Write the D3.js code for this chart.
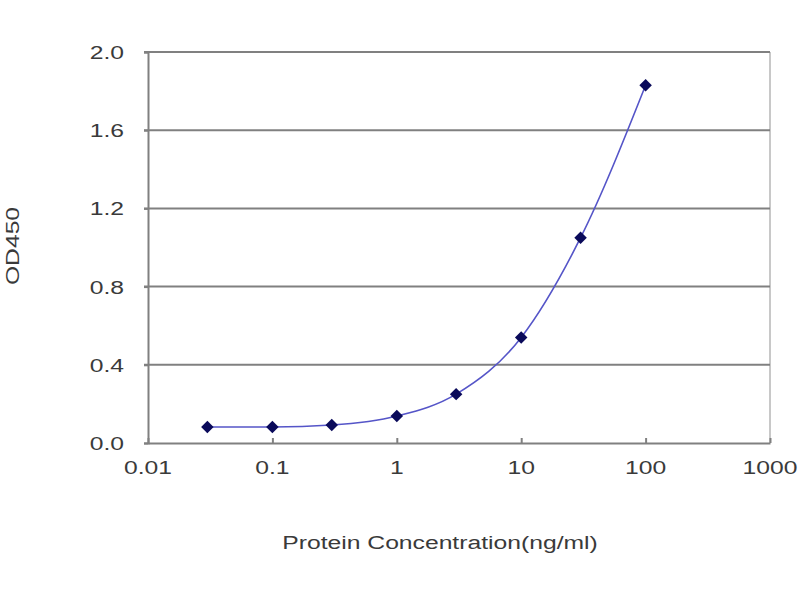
<!DOCTYPE html>
<html><head><meta charset="utf-8">
<script src="https://cdn.jsdelivr.net/npm/d3@7"></script>
<style>body{margin:0;background:#fff;} svg{display:block;}</style>
</head><body>
<svg id="c" width="800" height="600"></svg>
<script>
const concentrations = [0.03, 0.1, 0.3, 1, 3, 10, 30, 100];
const od450 = [0.082, 0.082, 0.092, 0.138, 0.25, 0.54, 1.05, 1.83];
const xTicks = [0.01, 0.1, 1, 10, 100, 1000];
const xTickLabels = ["0.01", "0.1", "1", "10", "100", "1000"];
const yTicks = [0.0, 0.4, 0.8, 1.2, 1.6, 2.0];
const yTickLabels = ["0.0", "0.4", "0.8", "1.2", "1.6", "2.0"];

const svg = d3.select("#c");
const L = 148, R = 770, T = 52, B = 443;
const x = d3.scaleLog().domain([0.01, 1000]).range([L, R]);
const y = d3.scaleLinear().domain([0, 2]).range([B, T]);
const font = "'Liberation Sans', Arial, sans-serif";
const SX = 1.3, FS = 19, TXT = "#3a3a3a";

function label(g, tx, ty, text, anchor, rot) {
  return g.append("g").attr("transform", `translate(${tx},${ty})` + (rot ? ` rotate(${rot})` : "") + ` scale(${SX},1)`)
    .append("text").attr("text-anchor", anchor).attr("font-family", font)
    .attr("font-size", FS).attr("fill", TXT).text(text);
}

// right border
svg.append("line").attr("x1", R).attr("x2", R).attr("y1", T).attr("y2", B)
  .attr("stroke", "#c8c8c8").attr("stroke-width", 2);

// gridlines
svg.append("g").selectAll("line").data(yTicks.filter(d => d > 0)).join("line")
  .attr("x1", L - 4).attr("x2", R).attr("y1", d => y(d)).attr("y2", d => y(d))
  .attr("stroke", "#808080").attr("stroke-width", 2);

// y axis
const yAxis = d3.axisLeft(y).tickValues(yTicks).tickFormat("").tickSize(4);
const gy = svg.append("g").attr("transform", `translate(${L},0)`).call(yAxis);
gy.select(".domain").attr("stroke", "#808080").attr("stroke-width", 2);
gy.selectAll(".tick line").attr("stroke", "#808080").attr("stroke-width", 2);
yTicks.forEach((d, i) => label(svg, 124, y(d) + 1, yTickLabels[i], "end").attr("dy", "0.32em"));

// x axis
const xAxis = d3.axisBottom(x).tickValues(xTicks).tickFormat("").tickSizeInner(-5).tickSizeOuter(0);
const gx = svg.append("g").attr("transform", `translate(0,${B})`).call(xAxis);
gx.select(".domain").attr("stroke", "#808080").attr("stroke-width", 2);
gx.selectAll(".tick line").attr("stroke", "#808080").attr("stroke-width", 2);
xTicks.forEach((d, i) => label(svg, x(d), 474, xTickLabels[i], "middle"));

// curve
const pts = concentrations.map((c, i) => [c, od450[i]]);
const line = d3.line().x(d => x(d[0])).y(d => y(d[1])).curve(d3.curveMonotoneX);
svg.append("path").datum(pts).attr("d", line).attr("fill", "none")
  .attr("stroke", "#5555c8").attr("stroke-width", 1.6);

// markers
svg.append("g").selectAll("path").data(pts).join("path")
  .attr("transform", d => `translate(${x(d[0])},${y(d[1])}) rotate(45)`)
  .attr("d", d3.symbol().type(d3.symbolSquare).size(78))
  .attr("fill", "#0a0a5a");

// axis titles
label(svg, 440, 549, "Protein Concentration(ng/ml)", "middle");
label(svg, 19, 246, "OD450", "middle", -90);
</script>
</body></html>
